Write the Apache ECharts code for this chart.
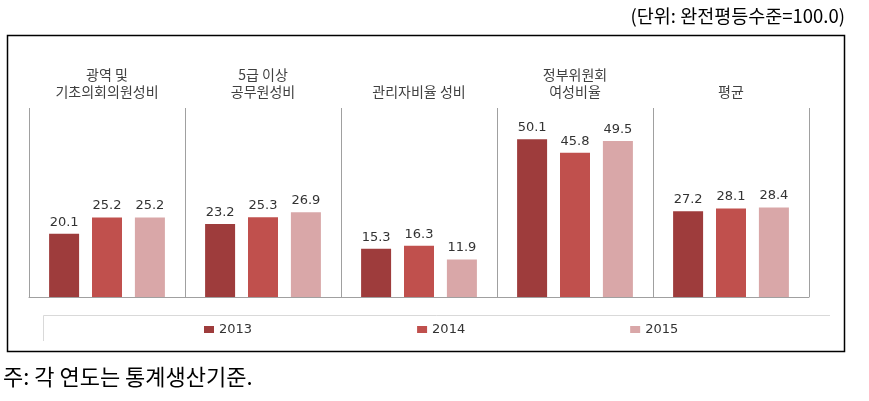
<!DOCTYPE html>
<html>
<head>
<meta charset="utf-8">
<script src="https://cdn.jsdelivr.net/npm/echarts@6/dist/echarts.min.js"></script>
<style>
html,body{margin:0;padding:0;background:#fff;}
#chart{width:869px;height:401px;}
</style>
</head>
<body>
<div id="chart"></div>
<script>
const categories = ['광역 및\n기초의회의원성비', '5급 이상\n공무원성비', '관리자비율 성비', '정부위원회\n여성비율', '평균'];
const seriesNames = ['2013', '2014', '2015'];
const values2013 = [20.1, 23.2, 15.3, 50.1, 27.2];
const values2014 = [25.2, 25.3, 16.3, 45.8, 28.1];
const values2015 = [25.2, 26.9, 11.9, 49.5, 28.4];
const colors = ['#9E3C3C', '#C0504D', '#D9A7A8'];
const unitText = '(단위: 완전평등수준=100.0)';
const noteText = '주: 각 연도는 통계생산기준.';

const chart = echarts.init(document.getElementById('chart'), null, {renderer: 'canvas'});
const allValues = [values2013, values2014, values2015];
const labelFont = 'DejaVu Sans, Verdana, sans-serif';
const krFont = '"Noto Sans CJK KR", sans-serif';

chart.setOption({
  animation: false,
  backgroundColor: '#fff',
  grid: {left: 29, right: 60, top: 108, bottom: 104, containLabel: false},
  xAxis: [
    {
      type: 'category', data: categories, position: 'bottom',
      axisLine: {show: true, lineStyle: {color: '#a0a0a0', width: 1}},
      axisTick: {show: false},
      axisLabel: {show: false},
      splitLine: {show: true, lineStyle: {color: '#a0a0a0', width: 1}}
    },
    {
      type: 'category', data: categories, position: 'top',
      axisLine: {show: false}, axisTick: {show: false},
      axisLabel: {show: true, margin: 8, fontSize: 14, lineHeight: 17, color: '#404040', fontFamily: krFont},
      splitLine: {show: false}
    }
  ],
  yAxis: {type: 'value', min: 0, max: 60, show: false, splitLine: {show: false}},
  legend: {
    data: seriesNames,
    left: 199, top: 318,
    itemWidth: 10, itemHeight: 7, itemGap: 165,
    icon: 'rect',
    textStyle: {fontSize: 13, color: '#333', fontFamily: labelFont}
  },
  series: seriesNames.map((name, i) => ({
    name: name,
    type: 'bar',
    xAxisIndex: 0,
    data: allValues[i],
    barWidth: 30,
    barGap: '43%',
    itemStyle: {color: colors[i]},
    label: {show: true, position: 'top', distance: 5, fontSize: 13, color: '#333', fontFamily: labelFont,
      formatter: p => p.value.toFixed(1)}
  })),
  graphic: [
    {type: 'rect', shape: {x: 7.5, y: 35.5, width: 837, height: 316}, style: {fill: 'none', stroke: '#000', lineWidth: 1.5}, silent: true, z: 0},
    {type: 'line', shape: {x1: 43.5, y1: 315.5, x2: 830, y2: 315.5}, style: {stroke: '#d9d9d9', lineWidth: 1}, silent: true},
    {type: 'line', shape: {x1: 43.5, y1: 315.5, x2: 43.5, y2: 341}, style: {stroke: '#d9d9d9', lineWidth: 1}, silent: true},
    {type: 'text', right: 24, top: 7, style: {text: unitText, fill: '#000', fontSize: 18.5, fontFamily: krFont}, silent: true},
    {type: 'text', left: 3, top: 366, style: {text: noteText, fill: '#000', fontSize: 22, fontFamily: krFont}, silent: true}
  ]
});
</script>
</body>
</html>
